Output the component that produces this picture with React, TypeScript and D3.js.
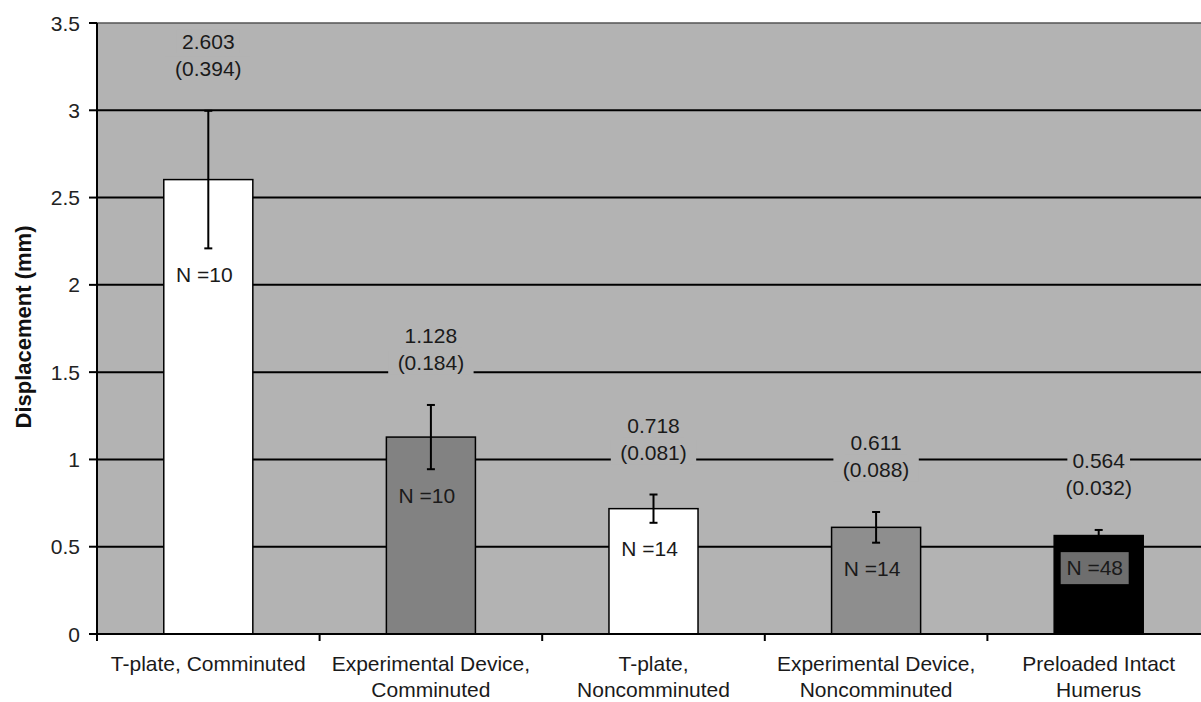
import React from 'react'
import * as d3 from 'd3'

// data
const categories = [
    ['T-plate, Comminuted'],
    ['Experimental Device,', 'Comminuted'],
    ['T-plate,', 'Noncomminuted'],
    ['Experimental Device,', 'Noncomminuted'],
    ['Preloaded Intact', 'Humerus'],
]
const means = [2.603, 1.128, 0.718, 0.611, 0.564]
const sds = [0.394, 0.184, 0.081, 0.088, 0.032]
const counts = [10, 10, 14, 14, 48]
const barColors = ['#ffffff', '#828282', '#ffffff', '#8e8e8e', '#000000']
const yTicks = [0, 0.5, 1, 1.5, 2, 2.5, 3, 3.5]

const W = 1201
const H = 702
const left = 97
const top = 23
const bottom = 634
const right = 1210
const plotBg = '#b3b3b3'
const font = 'Arial, "Liberation Sans", sans-serif'
const fs = 21

const App = () => {
    const keys = categories.map((c) => c.join(' '))
    const x = d3.scaleBand<string>().domain(keys).range([left, right]).padding(0)
    const y = d3.scaleLinear().domain([0, 3.5]).range([bottom, top])
    const bw = x.bandwidth() * 0.4

    const textW = (s: string) => s.length * fs * 0.54

    return (
        <svg width={W} height={H} style={{ position: 'absolute', left: 0, top: 0, background: '#fff' }}>
            <rect x={left} y={top} width={right - left} height={bottom - top} fill={plotBg} />
            {/* gridlines */}
            {yTicks.filter((t) => t > 0 && t < 3.5).map((t) => (
                <line key={t} x1={left} x2={right} y1={y(t)} y2={y(t)} stroke="#000" strokeWidth={2} />
            ))}
            <line x1={left} x2={right} y1={y(3.5)} y2={y(3.5)} stroke="#555" strokeWidth={1.5} />

            {/* value labels with bg boxes */}
            {means.map((m, i) => {
                const cx = x(keys[i])! + x.bandwidth() / 2
                const y2 = y(m + sds[i]) - 42
                const y1 = y2 - 27
                const l1 = m.toFixed(3)
                const l2 = `(${sds[i].toFixed(3)})`
                return (
                    <g key={'v' + i} fontFamily={font} fontSize={fs} textAnchor="middle" fill="#1a1a1a">
                        <rect x={cx - textW(l1) / 2 - 3} y={y1 - 12} width={textW(l1) + 6} height={24} fill={plotBg} />
                        <rect x={cx - textW(l2) / 2 - 3} y={y2 - 12} width={textW(l2) + 6} height={24} fill={plotBg} />
                        <text x={cx} y={y1} dominantBaseline="central">{l1}</text>
                        <text x={cx} y={y2} dominantBaseline="central">{l2}</text>
                    </g>
                )
            })}

            {/* bars */}
            {means.map((m, i) => {
                const cx = x(keys[i])! + x.bandwidth() / 2
                return (
                    <rect key={'b' + i} x={cx - bw / 2} y={y(m)} width={bw} height={bottom - y(m)}
                        fill={barColors[i]} stroke="#000" strokeWidth={1.5} />
                )
            })}

            {/* error bars */}
            {means.map((m, i) => {
                const cx = x(keys[i])! + x.bandwidth() / 2
                const hi = y(m + sds[i])
                const lo = y(m - sds[i])
                return (
                    <g key={'e' + i} stroke="#000" strokeWidth={2}>
                        <line x1={cx} x2={cx} y1={hi} y2={lo} />
                        <line x1={cx - 4} x2={cx + 4} y1={hi} y2={hi} />
                        <line x1={cx - 4} x2={cx + 4} y1={lo} y2={lo} />
                    </g>
                )
            })}

            {/* N labels */}
            {counts.map((n, i) => {
                const cx = x(keys[i])! + x.bandwidth() / 2 - 4
                const cy = y(means[i] - sds[i]) + 26
                const label = `N =${n}`
                const dark = barColors[i] === '#000000'
                return (
                    <g key={'n' + i} fontFamily={font} fontSize={fs}>
                        {dark && (
                            <rect x={cx - 34} y={cy - 15} width={68} height={32} fill="#6e6e6e" />
                        )}
                        <text x={cx} y={cy} textAnchor="middle" dominantBaseline="central" fill="#1a1a1a">{label}</text>
                    </g>
                )
            })}

            {/* y axis */}
            <line x1={left} x2={left} y1={top} y2={bottom + 7} stroke="#000" strokeWidth={2} />
            {yTicks.map((t) => (
                <g key={'t' + t}>
                    <line x1={left - 8} x2={left} y1={y(t)} y2={y(t)} stroke="#000" strokeWidth={2} />
                    <text x={80} y={y(t)} textAnchor="end" dominantBaseline="central"
                        fontFamily={font} fontSize={fs} fill="#222">{t}</text>
                </g>
            ))}
            <text transform={`translate(23, 327) rotate(-90)`} textAnchor="middle"
                dominantBaseline="central" fontFamily={font} fontSize={22} fontWeight="bold" fill="#111">
                Displacement (mm)
            </text>

            {/* x axis */}
            <line x1={left} x2={right} y1={bottom} y2={bottom} stroke="#000" strokeWidth={2} />
            {keys.map((k, i) => (
                <line key={'xt' + i} x1={x(k)!} x2={x(k)!} y1={bottom} y2={bottom + 7} stroke="#000" strokeWidth={2} />
            ))}
            {categories.map((lines, i) => {
                const cx = x(keys[i])! + x.bandwidth() / 2
                return (
                    <text key={'c' + i} x={cx} textAnchor="middle" fontFamily={font} fontSize={fs} fill="#1a1a1a">
                        {lines.map((ln, j) => (
                            <tspan key={j} x={cx} y={671 + j * 26}>{ln}</tspan>
                        ))}
                    </text>
                )
            })}
        </svg>
    )
}

export default App
